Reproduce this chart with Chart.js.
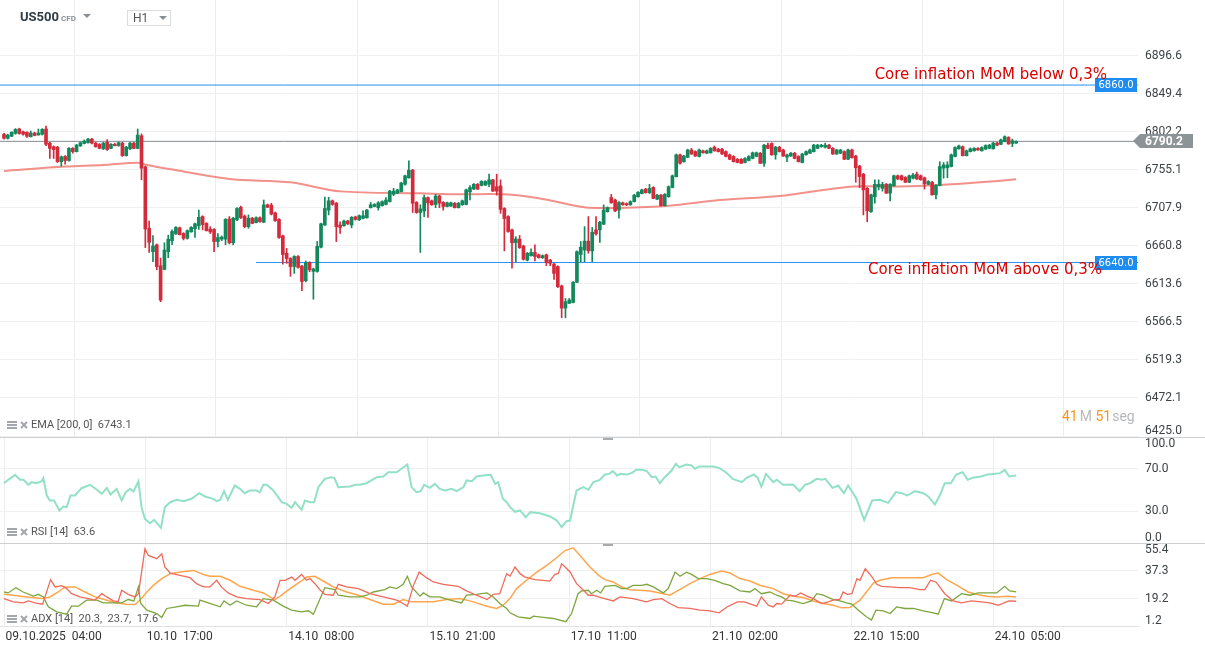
<!DOCTYPE html>
<html>
<head>
<meta charset="utf-8">
<script src="https://cdn.jsdelivr.net/npm/chart.js@4.4.1/dist/chart.umd.min.js"></script>
<style>
  body { margin: 0; background: #fff; }
  #wrap { position: relative; width: 1205px; height: 652px; overflow: hidden; font-family: Roboto, sans-serif; }
  canvas { position: absolute; left: 0; }
  .ov { position: absolute; white-space: pre; line-height: 14px; }
  .leg { position: absolute; left: 7px; font-size: 11px; color: #555; white-space: pre; line-height: 14px; }
  .leg svg { vertical-align: -1px; margin-right: 3px; }
  .tri { position: absolute; width: 0; height: 0; border-left: 4px solid transparent; border-right: 4px solid transparent; border-top: 4px solid #8a8f94; }
</style>
</head>
<body>
<div id="wrap">
  <canvas id="main" width="1205" height="437" style="top:0;width:1205px;height:437px"></canvas>
  <canvas id="rsi" width="1205" height="106" style="top:437px;width:1205px;height:106px"></canvas>
  <canvas id="adx" width="1205" height="109" style="top:543px;width:1205px;height:109px"></canvas>

  <div class="ov" style="left:20px;top:10px;font-weight:bold;font-size:13px;color:#2f3b45">US500</div>
  <div class="ov" style="left:61px;top:12px;font-weight:bold;font-size:8px;color:#8a9096">CFD</div>
  <div class="tri" style="left:83px;top:14px"></div>
  <div class="ov" style="left:127px;top:10px;width:42px;height:14px;border:1px solid #dadcde"></div>
  <div class="ov" style="left:133px;top:11px;font-size:12px;color:#555">H1</div>
  <div class="tri" style="left:159px;top:16px"></div>

  <div class="leg" id="legEma" style="top:418px"></div>
  <div class="leg" id="legRsi" style="top:525px"></div>
  <div class="leg" id="legAdx" style="top:612px"></div>

  <div class="ov" style="left:1062px;top:409px;font-size:14px"><span style="color:#f7941d">41</span><span style="color:#b5b8bb;margin-left:2px">M </span><span style="color:#f7941d">51</span><span style="color:#b5b8bb;margin-left:1px">seg</span></div>
</div>

<script>
// candles (H1), index 0 = 09.10 04:00
const opens = [
  6799, 6794, 6796.5, 6800, 6805.5, 6802, 6801.5, 6796, 6800.5, 6798,
  6799, 6805.5, 6788, 6783.5, 6783, 6765, 6771.5, 6766.5, 6781.5, 6777.5,
  6784.5, 6787.5, 6788.5, 6793, 6788, 6786.5, 6781, 6789, 6781.5, 6786.5,
  6785, 6788, 6772.5, 6781, 6788, 6781.5, 6797, 6758.5, 6682.5, 6653.5,
  6662, 6636, 6631.5, 6653.5, 6667, 6675.5, 6683, 6676, 6670, 6678,
  6682, 6685.5, 6697, 6688.5, 6681.5, 6681, 6666, 6669, 6669, 6694,
  6664.5, 6693, 6708.5, 6697.5, 6684.5, 6695, 6689.5, 6695.5, 6690, 6711.5,
  6711, 6701.5, 6693.5, 6673, 6651.5, 6645, 6635, 6647.5, 6635.5, 6617.5,
  6640, 6629, 6629, 6659, 6686.5, 6705, 6716.5, 6713.5, 6686.5, 6685.5,
  6691.5, 6686.5, 6696.5, 6693, 6694.8, 6695.5, 6708, 6709.5, 6708, 6710.5,
  6712, 6715.5, 6724.5, 6726, 6728, 6737, 6745, 6754.5, 6714.5, 6702,
  6704, 6720.5, 6716.5, 6712, 6722.5, 6714.5, 6709.5, 6710, 6713.5, 6708,
  6711.5, 6712, 6727.5, 6731, 6737, 6735.5, 6736, 6737, 6742.5, 6734,
  6735, 6707, 6697, 6680.5, 6664.7, 6669, 6660.5, 6643, 6648.5, 6652.5,
  6649.5, 6646, 6649.5, 6643, 6638, 6635, 6611, 6583.5, 6589.5, 6590.5,
  6615.5, 6650, 6655.5, 6666.5, 6654.5, 6680.5, 6680.5, 6687.5, 6703, 6720.5,
  6717.5, 6705, 6714, 6713, 6711.5, 6715.5, 6721.5, 6725.5, 6731, 6726.5,
  6733, 6718.5, 6723.5, 6710.5, 6721.5, 6733, 6746.5, 6773.5, 6765, 6770.5,
  6779.5, 6777.5, 6771.5, 6778.5, 6775.5, 6776, 6783, 6780.5, 6780.5, 6777.5,
  6773.5, 6771.5, 6768, 6768, 6764, 6766.5, 6769, 6771.5, 6775.5, 6763,
  6785.5, 6787.5, 6773.5, 6783, 6779.5, 6770.5, 6772, 6775.5, 6771.5, 6764,
  6773.5, 6775.5, 6777.5, 6781.5, 6783.5, 6783, 6785.5, 6781.5, 6774.5, 6775.5,
  6777.5, 6768, 6779.5, 6772, 6759.5, 6749.5, 6732, 6703, 6721.5, 6734,
  6732, 6737, 6726, 6735, 6747.5, 6747.5, 6745.5, 6739.5, 6744.5, 6749.5,
  6747.5, 6745, 6737, 6739.5, 6724, 6735.5, 6757, 6757.5, 6759, 6771.5,
  6781, 6783.5, 6772.5, 6777.5, 6778.5, 6781.5, 6778.5, 6780.5, 6781.5, 6781,
  6788, 6786.5, 6790, 6795, 6787.5, 6788
];
const highs = [
  6800, 6799, 6802, 6806, 6806.5, 6803, 6802, 6803, 6801.5, 6805.5,
  6806, 6809, 6789, 6784.5, 6784, 6772, 6772.5, 6782.5, 6782.5, 6786.5,
  6789.5, 6792, 6794, 6794, 6789, 6787.5, 6789, 6792.5, 6787.5, 6788,
  6789.5, 6789, 6784, 6789, 6789, 6805.5, 6799.5, 6759.5, 6691.5, 6673.5,
  6663, 6645.5, 6664.5, 6674, 6680.5, 6684.5, 6684, 6677, 6680.5, 6684.5,
  6689, 6705, 6698, 6689.5, 6684.5, 6682, 6676, 6673, 6694.5, 6697,
  6696, 6708, 6710, 6699, 6699, 6696, 6696.5, 6696.5, 6717.5, 6712.5,
  6713.5, 6702.5, 6694.5, 6674, 6657.5, 6646, 6648.5, 6648.5, 6636.5, 6642,
  6641, 6633, 6666, 6689, 6721, 6721, 6717.5, 6714.5, 6690.5, 6692.5,
  6692.5, 6697, 6697.5, 6699, 6704, 6706, 6714.5, 6713, 6715.5, 6716.5,
  6720.5, 6729.5, 6732, 6731, 6739.5, 6748.5, 6766, 6755.5, 6715.5, 6711.5,
  6723.5, 6721.5, 6717.5, 6724.5, 6723.5, 6715.5, 6715, 6715, 6714.5, 6714.5,
  6717.5, 6731, 6735.5, 6738, 6738, 6741.5, 6741.5, 6749.5, 6743, 6749.5,
  6742.5, 6708, 6698, 6681.5, 6672, 6673.5, 6661.5, 6652.5, 6657, 6662,
  6650.5, 6649.5, 6650.5, 6644, 6639, 6636, 6612, 6595.5, 6595.5, 6616.5,
  6654.5, 6666, 6684.5, 6697, 6683.5, 6697, 6691, 6711.5, 6709, 6724.5,
  6718.5, 6715.5, 6715, 6714, 6716.5, 6724.5, 6728, 6731, 6732, 6737,
  6734, 6724.5, 6724.5, 6725.5, 6735, 6748.5, 6774.5, 6774.5, 6773, 6780.5,
  6781.5, 6778.5, 6780.5, 6779.5, 6779.5, 6782.5, 6784.5, 6781.5, 6781.5, 6778.5,
  6774.5, 6772.5, 6769, 6769, 6770, 6772.5, 6777, 6777, 6776.5, 6786.5,
  6788, 6788.5, 6784, 6784, 6780.5, 6774.5, 6776.5, 6776.5, 6772.5, 6775.5,
  6778.5, 6780.5, 6786.5, 6786.5, 6786.5, 6788, 6786.5, 6782.5, 6780.5, 6780.5,
  6778.5, 6780.5, 6780.5, 6773, 6760.5, 6750.5, 6733, 6725, 6742.5, 6742.5,
  6739.5, 6738, 6738, 6748.5, 6748.5, 6748.5, 6746.5, 6748.5, 6750.5, 6752,
  6748.5, 6746, 6741.5, 6740.5, 6736.5, 6765, 6764, 6765, 6774.5, 6783.5,
  6785.5, 6784.5, 6779.5, 6782, 6782.5, 6782.5, 6783.5, 6786, 6786.5, 6789,
  6789, 6793, 6797, 6796, 6793, 6791
];
const lows = [
  6793, 6793, 6796, 6799, 6799, 6798, 6795, 6795.5, 6797, 6798,
  6798, 6785, 6769, 6769, 6764, 6759.5, 6762, 6765.5, 6775.5, 6777,
  6784, 6787, 6788, 6787, 6783, 6781, 6780, 6779, 6781, 6784.5,
  6784, 6771.5, 6772, 6780, 6781, 6781, 6742.5, 6658.5, 6652.5, 6641,
  6631, 6591.5, 6631, 6646, 6662, 6675, 6674, 6668, 6669, 6677.5,
  6671, 6681, 6680.5, 6679, 6676, 6653.5, 6659.5, 6667, 6662, 6663,
  6662, 6692, 6694.5, 6683, 6682.5, 6688, 6689, 6690, 6689.5, 6708,
  6699, 6691, 6670, 6638, 6639, 6623, 6626.5, 6633, 6605, 6616,
  6628.5, 6594.5, 6628, 6658, 6686, 6699, 6711, 6666, 6676, 6685,
  6687, 6683, 6692.5, 6692, 6694, 6695, 6707.5, 6709, 6705, 6710,
  6711.5, 6715, 6723, 6725.5, 6727.5, 6736, 6744.5, 6702, 6701, 6652.5,
  6697, 6696, 6711, 6708, 6708, 6705, 6709, 6709.5, 6707.5, 6707.5,
  6711, 6711.5, 6717.5, 6730.5, 6730.5, 6735, 6735.5, 6734, 6728, 6723.5,
  6701, 6654.5, 6677.5, 6633, 6641, 6657.5, 6643, 6642, 6648, 6642,
  6645.5, 6645, 6636, 6636, 6619, 6609, 6571.5, 6571.5, 6589, 6590,
  6615, 6641, 6641, 6651.5, 6641, 6674, 6665, 6687, 6702.5, 6713.5,
  6703, 6695, 6711, 6710.5, 6711, 6715, 6721, 6725, 6726, 6725.5,
  6719, 6718, 6710, 6710, 6721, 6732.5, 6746, 6762, 6764.5, 6770,
  6774, 6771.5, 6771, 6775.5, 6775, 6775.5, 6778, 6777, 6774, 6771,
  6767.5, 6764.5, 6763.5, 6762.5, 6763.5, 6766, 6768.5, 6771, 6762.5, 6759,
  6781, 6773, 6768, 6777, 6771.5, 6765, 6771.5, 6768.5, 6764.5, 6763.5,
  6773, 6775, 6777, 6781, 6783, 6782, 6781, 6774, 6774, 6775,
  6767.5, 6767.5, 6769.5, 6739.5, 6733, 6699, 6690.5, 6702, 6713.5, 6730,
  6728.5, 6725.5, 6716.5, 6734.5, 6743, 6742, 6739, 6739, 6743.5, 6743,
  6742, 6731, 6736.5, 6723.5, 6719, 6735, 6744.5, 6745, 6758.5, 6771,
  6780.5, 6772, 6772, 6777, 6778, 6779, 6778, 6780, 6781, 6780.5,
  6785, 6786, 6789.5, 6786.5, 6783.5, 6787.5
];
const closes = [
  6794, 6798, 6801.5, 6805, 6800, 6799, 6796.5, 6800.5, 6797.5, 6800.5,
  6805, 6786.5, 6781.5, 6780, 6765, 6771, 6766.5, 6781.5, 6777.5, 6785.5,
  6788.5, 6790.5, 6793, 6788, 6783.5, 6781.5, 6788, 6780, 6786.5, 6785,
  6788.5, 6772.5, 6783, 6788, 6781.5, 6798, 6757, 6681.5, 6665, 6660.5,
  6635, 6593.5, 6655.5, 6669, 6678.5, 6683.5, 6674.5, 6670, 6679.5, 6683.5,
  6688, 6696, 6687, 6679.5, 6678, 6666, 6671, 6671.5, 6693.5, 6664.5,
  6695, 6707, 6695.5, 6684.5, 6695, 6688.5, 6695.5, 6690.5, 6711.5, 6708.5,
  6700, 6692, 6671, 6650, 6645, 6635, 6647.5, 6634, 6616.5, 6640,
  6631, 6632, 6660, 6688, 6707, 6716.5, 6712, 6684.5, 6683.5, 6691.5,
  6688, 6696, 6693.5, 6698, 6698, 6705, 6711.5, 6712, 6714, 6715.5,
  6717.5, 6728.5, 6728.5, 6730, 6738.5, 6747.5, 6754.5, 6713.5, 6702, 6706.5,
  6720.5, 6714, 6711.5, 6722.5, 6713.5, 6709.5, 6714, 6714, 6708, 6713.5,
  6716.5, 6730, 6733, 6737, 6731, 6740.5, 6740.5, 6742.5, 6728.5, 6728.5,
  6706, 6694.5, 6678.5, 6664.5, 6669.2, 6658.5, 6644, 6651.5, 6652.5, 6647.5,
  6646, 6648.5, 6640, 6639, 6626.5, 6610, 6583.5, 6591.5, 6593.5, 6615.5,
  6653.5, 6659, 6666.5, 6654.5, 6677.5, 6675.5, 6690, 6705, 6708, 6714,
  6704, 6714.5, 6711.5, 6711.5, 6715.5, 6723.5, 6727, 6730, 6726.5, 6732,
  6719.5, 6723.5, 6710.5, 6724.5, 6734, 6747.5, 6773.5, 6763, 6772, 6779.5,
  6774.5, 6772, 6779.5, 6776, 6778.5, 6781.5, 6778.5, 6777.5, 6774.5, 6771.5,
  6768, 6765, 6764, 6763, 6769, 6771.5, 6776, 6776, 6763, 6785.5,
  6781.5, 6773.5, 6783, 6777.5, 6772, 6773.5, 6775.5, 6769, 6765, 6774.5,
  6777.5, 6779.5, 6785.5, 6785.5, 6785.5, 6785.5, 6781.5, 6774.5, 6779.5, 6779.5,
  6768, 6779.5, 6770, 6757.5, 6746.5, 6730, 6704, 6724, 6737, 6737,
  6737, 6726, 6737, 6747.5, 6743.5, 6742.5, 6739.5, 6747.5, 6748.5, 6743.5,
  6742.5, 6737.5, 6740.5, 6724, 6735.5, 6759, 6761, 6761, 6773.5, 6782.5,
  6784.5, 6772.5, 6778.5, 6781, 6781.5, 6779.5, 6782.5, 6785, 6785.5, 6788,
  6785.5, 6792, 6796, 6787, 6791, 6790.2
];

// EMA 200 read at [candle index, value]
const emaPts = [[0,6753.5],[16,6758.9],[26,6760.9],[35,6763.8],[37.4,6760.9],[44.8,6754.7],[59,6743.5],[75,6739.4],[88,6728.2],[109,6725.8],[119,6724.6],[131,6724.6],[140,6719.6],[149.5,6710.4],[153,6708],[161,6707.7],[174,6710.4],[187.4,6717.5],[203,6722.5],[221.5,6734],[234.5,6734.2],[245,6736.1],[255.5,6739.4],[265,6743.1]];

const rsiPts = [[0,56.4],[1.1,59.6],[2.9,64.3],[4.2,59.6],[5.1,59.6],[6.4,54.9],[7.2,57.4],[8.5,56.4],[9.9,58.3],[10.3,61.2],[11.2,44.8],[12,40.1],[13.1,40.1],[14.5,30.7],[15.5,34.4],[16.4,33.8],[17.4,44.8],[18.6,44.8],[20.3,51.7],[22.5,54.9],[24.3,50.2],[25.6,46.4],[26.9,52],[27.9,45.7],[29.5,51.1],[30.8,40.1],[31.9,48],[33,51.1],[33.9,48.6],[35.2,58.3],[36,33.8],[36.9,22.8],[38.2,18.7],[39.3,21.8],[41.1,14.3],[42.1,33.8],[43.5,38.5],[45.2,40.7],[47,39.5],[49.1,41.7],[51.1,47],[52.6,43.9],[54.8,41.7],[55.7,39.5],[56.6,40.7],[57.6,48.9],[58.6,40.7],[60.4,54.2],[61.8,51.1],[63,47],[64.4,49.5],[66.1,49.5],[67,48],[67.9,54.9],[68.8,54.9],[70.5,49.5],[72.7,38.5],[74,36.9],[75.3,33.2],[76.2,38.5],[77.9,31.3],[78.8,40.1],[80.1,38.5],[81.2,38.5],[82.3,52.7],[84,60.5],[85.6,62.1],[86.5,61.5],[87.5,52.7],[90.6,53.3],[91.9,54.9],[93.2,54.9],[94.9,56.4],[97.6,62.1],[99.3,62.7],[100.6,66.8],[102.8,66.8],[105.6,74.1],[106.7,52.7],[108,48],[109.1,48.9],[110,54.9],[111.5,52],[112.8,55.8],[114.1,51.1],[115.4,49.5],[117.2,51.1],[118.5,48.9],[120.3,52.7],[121.1,59],[122.5,58.3],[123.7,62.7],[125.5,63.7],[127.4,64.3],[128.6,55.8],[129.4,57.4],[130.6,41.7],[131.6,38.5],[132.5,33.8],[133.8,29.4],[135.1,30.7],[136.6,24.4],[137.8,29.1],[140.3,28.1],[143,25],[144.7,21.2],[146,14.9],[147.3,20.6],[148.2,21.2],[149.9,49.5],[151.7,52.7],[153,50.2],[154.3,57.4],[156,59.6],[157.3,64.6],[158.5,65.2],[159.4,67.8],[160.5,63.7],[161.5,65.2],[163.1,64.6],[164.4,66.2],[165.5,69],[167,69],[168.3,67.8],[169.6,62.1],[170.6,62.7],[171.7,56.4],[173,62.1],[174.8,68.4],[175.9,74.7],[176.8,71.5],[178.7,74.1],[180,73.1],[180.9,70],[182,72.2],[184,72.2],[185.7,72.2],[187.2,70.9],[189,66.8],[190.8,60.5],[193.2,57.4],[194.4,61.5],[196.3,64.6],[197.2,62.1],[198.3,53.3],[199.5,65.2],[201.4,57.4],[202.3,59.6],[204,54.9],[206.6,55.2],[208.3,48.9],[209.7,54.9],[211,56.4],[212.8,60.5],[214.1,59.6],[215,60.5],[216.9,52],[218.4,54.2],[219.9,47],[221,54.2],[223.2,41.7],[225.2,21.8],[227.3,40.1],[229.3,40.7],[231.5,37.9],[233.5,48],[235,47],[236.5,44.8],[238.5,48.9],[240.7,47],[242,43.9],[243.7,36.3],[245,44.8],[246.3,56.4],[247.9,56.4],[249.3,64.6],[251,66.8],[252.3,59.6],[253.6,61.5],[255.8,62.7],[257.5,64.6],[259,65.2],[260.8,65.9],[262,69],[263.2,62.7],[265,63.6]];

const adxPts = [[0,22.1],[2.4,21.5],[6,20.4],[10.1,19.3],[12,20.4],[14.2,23.6],[15.9,26.9],[18.6,26.9],[21.2,23.6],[23.8,20.4],[26.9,18.3],[29.5,16.5],[32.1,15.7],[34.3,15.5],[35.6,18.3],[37.4,23.6],[39.1,27.9],[41.3,32.3],[43.5,35.5],[46.1,36.5],[49.6,37.6],[52.2,35],[53.9,33.8],[56.6,33.8],[59.2,31.2],[61.8,27.3],[65.3,24.7],[67.9,23],[69.6,20.4],[70.9,18.7],[72.3,20.9],[74.9,25.8],[77.5,30.1],[79.2,33.3],[81.4,33.8],[84,30.1],[86.2,26.9],[89.7,23.6],[92.8,21.5],[95.8,18.7],[99.3,15.7],[102,15.7],[104.5,18.7],[106.7,17.2],[108.9,17.2],[112.4,17.2],[115.9,18.7],[119.4,19.3],[122.9,17.2],[126.4,14.4],[129,12.9],[130.7,15],[132.5,19.5],[134.2,25.8],[136.8,31.2],[139.5,36.5],[142.1,40.9],[144.7,45.8],[146.9,50.5],[149,52.3],[151.2,46.2],[153.4,39.8],[155.7,34.4],[157.3,31.6],[159.5,30.1],[161.7,26.9],[163.8,25.1],[166.5,24.7],[169.1,24.3],[171.7,23],[174.3,21.5],[176.9,25.1],[179.6,29],[182.2,32.3],[184.8,35],[187.9,37.2],[190.1,35.9],[192.7,32.3],[195.3,30.7],[197.9,28],[201.4,25.8],[204,22.5],[206.6,20.9],[209.2,20],[211.9,17.8],[214.5,16.1],[217.1,15],[219.3,13.3],[221.4,13.5],[224.1,18.3],[225.8,23.6],[227.6,29.4],[229.3,31.2],[232.4,32.9],[237.2,32.9],[240.7,32.9],[242.9,35],[244.6,35.9],[246.8,31.6],[249.4,28],[252.4,23.6],[254.6,22.1],[257.2,20.9],[259.9,20.4],[262.6,20.9],[265,20.3]];

const diPlusPts = [[0,23.6],[1.1,23],[3.1,26.4],[5,23.6],[7.7,20.9],[9,22.1],[10.3,20.4],[11.6,14],[13.8,10.7],[16.4,9.2],[17.7,14.4],[19.5,14.4],[21.6,18.3],[24.3,18.3],[26,16.5],[28.6,16.5],[30.8,16.5],[32.5,18.7],[34,17.8],[35.2,26.9],[35.8,16.1],[37.4,11.8],[40,9.6],[41.3,7.1],[42.6,12.9],[45.2,14],[47.4,15],[50.9,14.4],[51.3,18.3],[53.5,16.5],[56.6,14],[57.6,17.8],[59.2,15],[60.9,17.8],[63.5,15],[66.1,14],[67.9,19.3],[70.5,18.3],[73.1,14.4],[75.3,11.8],[77.9,10.7],[79.7,11.4],[81,9.2],[84,26.4],[86.6,25.1],[87.5,21.5],[90.6,20.4],[93.2,20.4],[94.9,21.5],[96.7,23.6],[99.7,25.1],[101,26.9],[102.8,25.8],[104.5,28.6],[105.6,33.8],[106.7,26.9],[108.9,20.9],[109.8,23],[111.5,20.4],[114.1,20.4],[116.8,18.3],[119.8,16.5],[121.1,21.5],[123.7,22.1],[126.4,23],[128.1,20.4],[129.8,16.1],[131.6,12.9],[132.5,10.1],[134.6,7.5],[137.7,6.4],[138.6,7.9],[141.2,7.1],[143.8,6.4],[147.1,4.3],[148.6,9.6],[150.3,22.5],[151.2,24.3],[153,24.7],[153.8,22.5],[155.2,24.7],[156.2,23],[157.3,27.3],[160,27.9],[161.7,25.8],[163.1,25.8],[164.7,27.9],[167,27.9],[168.3,28.6],[170,26.9],[172.6,23],[173.9,25.8],[175.7,36.5],[177,33.8],[178.7,36.5],[180,35],[181.8,32.3],[184,32.3],[186.1,31.2],[188.3,29],[190.1,27.9],[192.7,24.3],[195.3,23.6],[196.6,25.8],[198.3,22.5],[200.5,23.6],[202.3,21.5],[203.6,20.4],[204.9,18.3],[206.6,17.8],[209.2,16.1],[211.4,17.8],[212.8,22.5],[214.5,21.5],[217.1,18.7],[218.9,17.8],[220.6,16.5],[222,15.7],[223.7,11.8],[225.8,7.5],[227.1,5.4],[228.3,11.8],[230.2,11.4],[232,9.6],[233.7,13.9],[235.9,12.9],[238.1,12.9],[240.7,11.4],[243.3,10.1],[244.6,9.2],[246.2,19.3],[248.1,17.8],[250.7,22.5],[252.9,21.5],[255.1,23],[258.1,23],[259.9,23],[262,27.3],[263.3,24.3],[265,23.7]];

const diMinusPts = [[0,19.3],[2.4,17.2],[5,16.5],[6.4,17.8],[8.1,16.5],[10.1,15.7],[12.2,31.6],[13.4,26.9],[15.1,27.7],[16.4,25.8],[17.7,22.5],[19.9,20.4],[22.1,19.3],[23.8,18.3],[25.6,22.5],[26.9,20.4],[28.6,17.8],[29.9,17.4],[30.8,24.7],[32.5,22.1],[34.3,20.4],[35.2,22.5],[36.9,51.6],[37.8,47.3],[40,45.2],[41.3,48.4],[42.1,39.8],[43.5,35.9],[46.1,34.4],[48.7,32.9],[50.4,29],[52.2,26.9],[53.9,26.9],[55.7,31.2],[56.9,26.9],[58.7,23],[60.9,20.4],[63.5,19.3],[67,18.7],[69.2,16.1],[70.9,20.4],[72.3,31.2],[73.6,31.2],[75.3,33.3],[76.2,31.2],[77.9,35],[79.2,31.2],[80.1,32.3],[81.4,29],[82.7,25.1],[84,22.1],[86.2,21.5],[87.5,28.6],[89.7,26.9],[92.8,25.8],[95.8,22.5],[99.3,20.4],[102.8,18.3],[104.5,16.1],[105.6,14.4],[107.2,27.9],[108.7,36.5],[110.6,32.9],[112.4,30.1],[115,28.6],[118.9,27.3],[121.1,24.3],[123.7,21.5],[126.5,18.7],[128.1,22.1],[129.8,22.5],[131.6,35.5],[132.5,34],[133.8,39.8],[135.1,35.5],[136.4,33.3],[139,31.6],[141.2,31.2],[142.9,30.7],[144.2,35],[145.1,35.5],[146,41.9],[146.9,39.8],[148.2,36.6],[149.9,29],[151.7,24.7],[153,21.5],[154.3,21.5],[155.7,20.4],[157.3,19.3],[159.5,17.8],[161.3,20.4],[164.7,19.3],[168.2,17.2],[170,18.7],[172.2,19.3],[174.3,16.1],[176.5,13.5],[179.6,12.9],[182.2,11.8],[184.8,11.4],[187.2,10.1],[189.3,13.9],[192,17.2],[193.8,17.2],[195.5,15.7],[197.1,14.4],[198.3,20.4],[200.1,15],[201.4,13.9],[202.3,16.1],[203.6,15.7],[205.8,21.5],[207.2,20.9],[208.6,23],[210.2,20.9],[211.9,19.3],[214.1,16.1],[215.8,17.2],[217.5,18.7],[218.8,18.7],[219.7,23.6],[220.8,22.1],[222,22.5],[223.3,32.3],[224.1,31.2],[225.5,38.7],[227.3,33.3],[228.5,28.6],[229.8,27.3],[232,26.9],[234.6,26.4],[237.2,26.4],[239.8,25.1],[241.1,25.1],[242.6,31.2],[244,30.1],[246.3,22.5],[248.5,17.8],[250.7,16.5],[253.3,17.8],[255.8,17.2],[258.1,16.5],[260.3,15],[263.1,17.8],[265,17.6]];

const dateIdx = [0, 37, 74, 111, 148, 185, 222, 259];
const dateLabels = ['09.10.2025  04:00', '10.10  17:00', '14.10  08:00', '15.10  21:00', '17.10  11:00', '21.10  02:00', '22.10  15:00', '24.10  05:00'];

const priceTicks = ['6425.0', '6472.1', '6519.3', '6566.5', '6613.6', '6660.8', '6707.9', '6755.1', '6802.2', '6849.4', '6896.6'];
const rsiTicks = ['0.0', '30.0', '70.0', '100.0'];
const adxTicks = ['1.2', '19.2', '37.3', '55.4'];

const levelHigh = 6860.0, levelLow = 6640.0, levelLowFrom = 66;
const noteHigh = 'Core inflation MoM below 0,3%';
const noteLow = 'Core inflation MoM above 0,3%';

const X_MIN = -1.05, X_MAX = 296.9;
const UP = '#12885c', DOWN = '#d32a3c';

Chart.defaults.animation = false;
Chart.defaults.events = [];
Chart.defaults.font.family = 'Roboto';

const pts = arr => arr.map(([x, y]) => ({ x, y }));
const last = arr => arr[arr.length - 1][1];
const candleColor = c => closes[c.dataIndex] >= opens[c.dataIndex] ? UP : DOWN;

function xScale(showLabels) {
  return {
    type: 'linear', min: X_MIN, max: X_MAX, offset: false,
    afterBuildTicks: s => { s.ticks = dateIdx.map(v => ({ value: v })); },
    afterFit: s => { s.height = showLabels ? 25.5 : 0; },
    grid: { color: '#ececec', drawTicks: false },
    border: { display: showLabels, color: '#e2e2e2' },
    ticks: {
      display: showLabels, autoSkip: false, maxRotation: 0, align: 'start',
      labelOffset: 1.5, padding: 3, color: '#333', font: { size: 12 },
      callback: v => dateLabels[dateIdx.indexOf(v)] || ''
    }
  };
}

function yScale(min, max, labels) {
  return {
    position: 'right', min, max,
    afterBuildTicks: s => { s.ticks = labels.map(t => ({ value: parseFloat(t) })); },
    afterFit: s => { s.width = 67; },
    grid: { color: '#f0f0f0', drawTicks: false },
    border: { display: false },
    ticks: { display: false }
  };
}

// right-hand tick labels, kept inside each panel like the original
function drawAxisLabels(chart, labels) {
  const s = chart.scales.y, ctx = chart.ctx;
  ctx.save();
  ctx.font = '12px Roboto';
  ctx.fillStyle = '#3d4245';
  ctx.textAlign = 'left';
  ctx.textBaseline = 'middle';
  labels.forEach(t => {
    const y = Math.min(Math.max(s.getPixelForValue(parseFloat(t)), s.top + 6.5), s.bottom - 5.5);
    ctx.fillText(t, s.left + 7, y);
  });
  ctx.restore();
}

function drawSeparator(chart) {
  const ctx = chart.ctx;
  ctx.save();
  ctx.fillStyle = '#cdd0d2';
  ctx.fillRect(0, 0, chart.width, 1);
  ctx.fillStyle = '#a8acaf';
  ctx.fillRect(603, 1, 10, 2);
  ctx.restore();
}

const mainDecor = {
  id: 'mainDecor',
  afterDraw(chart) {
    drawAxisLabels(chart, priceTicks);
    const { ctx, chartArea: a, scales: { y } } = chart;
    ctx.save();
    [levelHigh, levelLow].forEach(v => {
      const py = Math.round(y.getPixelForValue(v));
      ctx.fillStyle = '#1d8cf0';
      ctx.fillRect(a.right - 43, py - 7, 42, 14);
      ctx.fillStyle = '#fff';
      ctx.font = '10px "DejaVu Sans"';
      ctx.textAlign = 'center';
      ctx.textBaseline = 'middle';
      ctx.fillText(v.toFixed(1), a.right - 22, py + 0.5);
    });
    ctx.font = '15px "DejaVu Sans"';
    ctx.fillStyle = '#d80000';
    ctx.textAlign = 'right';
    ctx.textBaseline = 'middle';
    ctx.fillText(noteHigh, a.right - 31, y.getPixelForValue(levelHigh) - 10);
    ctx.fillText(noteLow, a.right - 36, y.getPixelForValue(levelLow) + 8);

    const cp = closes[closes.length - 1];
    const py = Math.round(y.getPixelForValue(cp));
    ctx.fillStyle = '#8d9497';
    ctx.beginPath();
    ctx.moveTo(a.right - 5, py);
    ctx.lineTo(a.right + 2, py - 7);
    ctx.lineTo(a.right + 55, py - 7);
    ctx.lineTo(a.right + 55, py + 7);
    ctx.lineTo(a.right + 2, py + 7);
    ctx.closePath();
    ctx.fill();
    ctx.fillStyle = '#fff';
    ctx.font = 'bold 12px Roboto';
    ctx.textAlign = 'left';
    ctx.fillText(cp.toFixed(1), a.right + 7, py + 0.5);
    ctx.restore();
  }
};

const idx = opens.map((_, i) => i);
const flat = (v, from) => [{ x: from, y: v }, { x: X_MAX, y: v }];

new Chart(document.getElementById('main'), {
  type: 'bar',
  data: {
    datasets: [
      { type: 'line', data: flat(levelHigh, X_MIN), borderColor: '#2591ef', borderWidth: 1, pointRadius: 0, order: 6 },
      { type: 'line', data: flat(levelLow, levelLowFrom), borderColor: '#2591ef', borderWidth: 1, pointRadius: 0, order: 6 },
      { type: 'line', data: flat(closes[closes.length - 1], X_MIN), borderColor: '#858c90', borderWidth: 1, pointRadius: 0, order: 5 },
      { type: 'line', data: pts(emaPts), borderColor: 'rgba(236,98,88,0.7)', borderWidth: 2, pointRadius: 0, tension: 0.3, order: 4 },
      { data: idx.map(i => ({ x: i, y: [lows[i], highs[i]] })), barThickness: 1, grouped: false, backgroundColor: candleColor, order: 3 },
      { data: idx.map(i => ({ x: i, y: [opens[i], closes[i]] })), barThickness: 3, minBarLength: 1, grouped: false, backgroundColor: candleColor, order: 2 }
    ]
  },
  options: {
    responsive: false,
    layout: { padding: { bottom: 1 } },
    plugins: { legend: { display: false }, tooltip: { enabled: false } },
    scales: { x: xScale(false), y: yScale(6425.0, 6965.4, priceTicks) }
  },
  plugins: [mainDecor]
});

new Chart(document.getElementById('rsi'), {
  type: 'line',
  data: { datasets: [
    { data: pts(rsiPts), borderColor: '#93e1c5', borderWidth: 2, pointRadius: 0 }
  ] },
  options: {
    responsive: false,
    plugins: { legend: { display: false }, tooltip: { enabled: false } },
    scales: { x: xScale(false), y: yScale(0, 100, rsiTicks) }
  },
  plugins: [{ id: 'rsiDecor', afterDraw(chart) { drawAxisLabels(chart, rsiTicks); drawSeparator(chart); } }]
});

new Chart(document.getElementById('adx'), {
  type: 'line',
  data: { datasets: [
    { data: pts(diMinusPts), borderColor: '#ef6b5b', borderWidth: 1.3, pointRadius: 0 },
    { data: pts(diPlusPts), borderColor: '#7da63f', borderWidth: 1.3, pointRadius: 0 },
    { data: pts(adxPts), borderColor: '#fda64e', borderWidth: 1.5, pointRadius: 0 }
  ] },
  options: {
    responsive: false,
    plugins: { legend: { display: false }, tooltip: { enabled: false } },
    scales: { x: xScale(true), y: yScale(1.2, 55.4, adxTicks) }
  },
  plugins: [{ id: 'adxDecor', afterDraw(chart) { drawAxisLabels(chart, adxTicks); drawSeparator(chart); } }]
});

// indicator captions
const icons = '<svg width="10" height="8"><rect y="0" width="10" height="2" fill="#a3a7ab"/><rect y="3" width="10" height="2" fill="#a3a7ab"/><rect y="6" width="10" height="2" fill="#a3a7ab"/></svg>' +
  '<svg width="8" height="8"><path d="M1 1L7 7M7 1L1 7" stroke="#a3a7ab" stroke-width="2"/></svg>';
document.getElementById('legEma').innerHTML = icons + 'EMA [200, 0]  ' + last(emaPts).toFixed(1);
document.getElementById('legRsi').innerHTML = icons + 'RSI [14]  ' + last(rsiPts).toFixed(1);
document.getElementById('legAdx').innerHTML = icons + 'ADX [14]  ' + [last(adxPts), last(diPlusPts), last(diMinusPts)].map(v => v.toFixed(1)).join(',  ');
</script>
</body>
</html>
